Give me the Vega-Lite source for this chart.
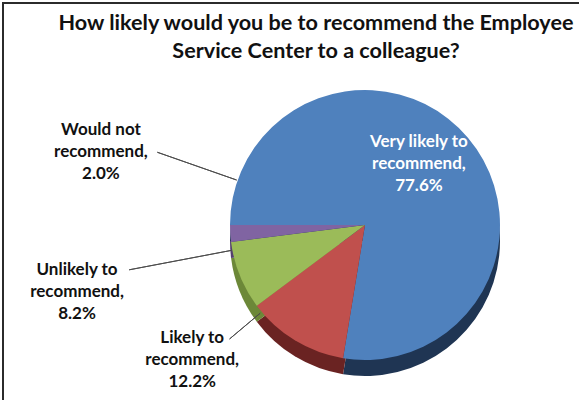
{
  "$schema": "https://vega.github.io/schema/vega-lite/v6.json",
  "width": 724,
  "height": 444,
  "autosize": {"type": "none"},
  "padding": {"left": 3, "top": 3, "right": 0, "bottom": 0},
  "background": "white",
  "view": {"stroke": "#2b2b2b", "strokeWidth": 2, "fill": "white"},
  "title": {
    "text": ["How likely would you be to recommend the Employee", "Service Center to a colleague?"],
    "anchor": "middle",
    "frame": "group",
    "dx": -49,
    "offset": -60,
    "font": "Lato",
    "fontSize": 21.6,
    "fontWeight": "bold",
    "lineHeight": 28,
    "color": "#111111"
  },
  "data": {
    "values": [
      {"category": "Very likely to recommend", "value": 77.6},
      {"category": "Likely to recommend", "value": 12.2},
      {"category": "Unlikely to recommend", "value": 8.2},
      {"category": "Would not recommend", "value": 2.0}
    ]
  },
  "transform": [
    {"stack": "value", "groupby": [], "sort": [{"field": "value", "order": "descending"}], "as": ["v0", "v1"]},
    {"calculate": "(datum.v0 + datum.v1) / 2", "as": "mid"},
    {"calculate": "replace(datum.category, ' recommend', '\\nrecommend,') + '\\n' + format(datum.value, '.1f') + '%'", "as": "label"}
  ],
  "layer": [
    {
      "mark": {"type": "arc", "radius": 135, "yOffset": 16},
      "encoding": {
        "theta": {"field": "v0", "type": "quantitative", "scale": {"domain": [0, 100], "range": [-1.5708, 4.7124]}},
        "theta2": {"field": "v1"},
        "color": {
          "field": "category", "type": "nominal", "legend": null,
          "scale": {"domain": ["Very likely to recommend", "Likely to recommend", "Unlikely to recommend", "Would not recommend"],
                    "range": ["#1F3553", "#6A2322", "#6C8838", "#54406E"]}
        }
      }
    },
    {
      "mark": {"type": "arc", "radius": 135},
      "encoding": {
        "theta": {"field": "v0", "type": "quantitative", "scale": {"domain": [0, 100], "range": [-1.5708, 4.7124]}},
        "theta2": {"field": "v1"},
        "color": {
          "field": "category", "type": "nominal", "legend": null,
          "scale": {"domain": ["Very likely to recommend", "Likely to recommend", "Unlikely to recommend", "Would not recommend"],
                    "range": ["#4F81BD", "#C0504D", "#9BBB59", "#8064A2"]}
        }
      }
    },
    {
      "transform": [{"filter": "datum.category === 'Would not recommend'"}],
      "mark": {"type": "arc", "radius": 220, "radius2": 136, "thetaOffset": 0.3997, "theta2Offset": 0.3997, "fill": null, "stroke": "#4d4d4d", "strokeWidth": 1},
      "encoding": {
        "theta": {"field": "mid", "type": "quantitative", "scale": {"domain": [0, 100], "range": [-1.5708, 4.7124]}},
        "theta2": {"field": "mid"}
      }
    },
    {
      "transform": [{"filter": "datum.category === 'Unlikely to recommend'"}],
      "mark": {"type": "arc", "radius": 240, "radius2": 136, "thetaOffset": 0.1955, "theta2Offset": 0.1955, "fill": null, "stroke": "#4d4d4d", "strokeWidth": 1},
      "encoding": {
        "theta": {"field": "mid", "type": "quantitative", "scale": {"domain": [0, 100], "range": [-1.5708, 4.7124]}},
        "theta2": {"field": "mid"}
      }
    },
    {
      "transform": [{"filter": "datum.category === 'Likely to recommend'"}],
      "mark": {"type": "arc", "radius": 177, "radius2": 137, "thetaOffset": 0.3246, "theta2Offset": 0.3246, "fill": null, "stroke": "#4d4d4d", "strokeWidth": 1},
      "encoding": {
        "theta": {"field": "mid", "type": "quantitative", "scale": {"domain": [0, 100], "range": [-1.5708, 4.7124]}},
        "theta2": {"field": "mid"}
      }
    },
    {
      "transform": [{"filter": "datum.category === 'Very likely to recommend'"}],
      "mark": {"type": "text", "radius": 99, "thetaOffset": -0.291, "font": "Lato", "fontWeight": "bold", "fontSize": 17, "lineBreak": "\n", "lineHeight": 22, "color": "#ffffff", "align": "center", "baseline": "middle"},
      "encoding": {
        "theta": {"field": "mid", "type": "quantitative", "scale": {"domain": [0, 100], "range": [-1.5708, 4.7124]}},
        "text": {"field": "label"}
      }
    },
    {
      "transform": [{"filter": "datum.category === 'Likely to recommend'"}],
      "mark": {"type": "text", "radius": 206.6, "thetaOffset": 0.444, "font": "Lato", "fontWeight": "bold", "fontSize": 17, "lineBreak": "\n", "lineHeight": 22, "color": "#111111", "align": "center", "baseline": "middle"},
      "encoding": {
        "theta": {"field": "mid", "type": "quantitative", "scale": {"domain": [0, 100], "range": [-1.5708, 4.7124]}},
        "text": {"field": "label"}
      }
    },
    {
      "transform": [{"filter": "datum.category === 'Unlikely to recommend'"}],
      "mark": {"type": "text", "radius": 291.5, "thetaOffset": 0.227, "font": "Lato", "fontWeight": "bold", "fontSize": 17, "lineBreak": "\n", "lineHeight": 22, "color": "#111111", "align": "center", "baseline": "middle"},
      "encoding": {
        "theta": {"field": "mid", "type": "quantitative", "scale": {"domain": [0, 100], "range": [-1.5708, 4.7124]}},
        "text": {"field": "label"}
      }
    },
    {
      "transform": [{"filter": "datum.category === 'Would not recommend'"}],
      "mark": {"type": "text", "radius": 280.6, "thetaOffset": 0.408, "font": "Lato", "fontWeight": "bold", "fontSize": 17, "lineBreak": "\n", "lineHeight": 22, "color": "#111111", "align": "center", "baseline": "middle"},
      "encoding": {
        "theta": {"field": "mid", "type": "quantitative", "scale": {"domain": [0, 100], "range": [-1.5708, 4.7124]}},
        "text": {"field": "label"}
      }
    }
  ],
  "resolve": {"scale": {"color": "independent"}}
}
